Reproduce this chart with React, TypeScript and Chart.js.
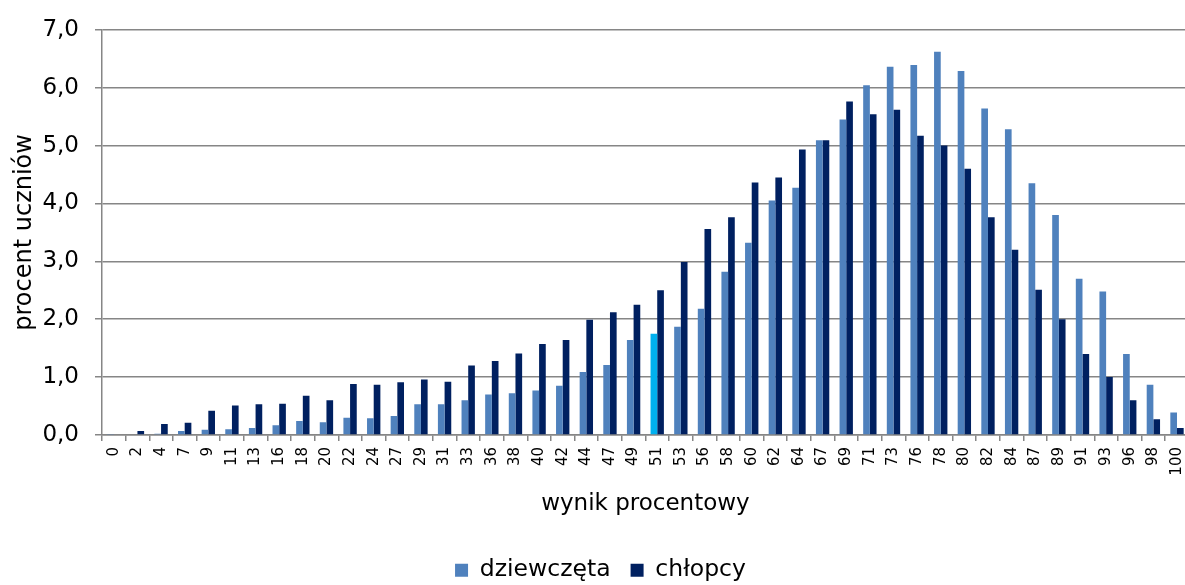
import React, { useEffect, useRef } from 'react';
import { Chart, registerables } from 'chart.js';

Chart.register(...registerables);

const categories = ['0', '2', '4', '7', '9', '11', '13', '16', '18', '20', '22', '24', '27', '29', '31', '33', '36', '38', '40', '42', '44', '47', '49', '51', '53', '56', '58', '60', '62', '64', '67', '69', '71', '73', '76', '78', '80', '82', '84', '87', '89', '91', '93', '96', '98', '100'];

const girls = [0.01, 0.0, 0.02, 0.07, 0.09, 0.1, 0.12, 0.17, 0.24, 0.22, 0.3, 0.29, 0.33, 0.53, 0.53, 0.6, 0.7, 0.72, 0.77, 0.85, 1.09, 1.21, 1.64, 1.75, 1.87, 2.18, 2.82, 3.32, 4.05, 4.27, 5.09, 5.45, 6.04, 6.36, 6.39, 6.62, 6.29, 5.64, 5.28, 4.35, 3.8, 2.7, 2.48, 1.4, 0.87, 0.39];

const boys = [0.0, 0.07, 0.19, 0.21, 0.42, 0.51, 0.53, 0.54, 0.68, 0.6, 0.88, 0.87, 0.91, 0.96, 0.92, 1.2, 1.28, 1.41, 1.57, 1.64, 1.99, 2.12, 2.25, 2.5, 2.99, 3.56, 3.76, 4.36, 4.45, 4.93, 5.09, 5.76, 5.54, 5.62, 5.17, 5.0, 4.6, 3.76, 3.2, 2.51, 2.0, 1.4, 1.0, 0.6, 0.27, 0.12];

const seriesNames = ['dziewczęta', 'chłopcy'];
const highlightLabel = '51';
const yMin = 0;
const yMax = 7;
const yStep = 1;

const FONT = "'DejaVu Sans', sans-serif";
const GRID = '#868686';
const GIRLS_COLOR = '#4F81BD';
const GIRLS_HIGHLIGHT = '#00B0F0';
const BOYS_COLOR = '#002060';

export default function App() {
  const ref = useRef<HTMLCanvasElement>(null);

  useEffect(() => {
    const highlightIndex = categories.indexOf(highlightLabel);
    const chart = new Chart(ref.current as HTMLCanvasElement, {
      type: 'bar',
      data: {
        labels: categories,
        datasets: [
          {
            label: seriesNames[0],
            data: girls,
            backgroundColor: (ctx: any) =>
              ctx.type === 'data' && ctx.dataIndex === highlightIndex ? GIRLS_HIGHLIGHT : GIRLS_COLOR,
            borderWidth: 0,
            categoryPercentage: 0.565,
            barPercentage: 1,
          },
          {
            label: seriesNames[1],
            data: boys,
            backgroundColor: BOYS_COLOR,
            borderWidth: 0,
            categoryPercentage: 0.565,
            barPercentage: 1,
          },
        ],
      },
      options: {
        animation: false,
        responsive: true,
        maintainAspectRatio: false,
        layout: { padding: { top: 27, left: 0, right: 0, bottom: -7 } },
        plugins: {
          legend: {
            position: 'bottom',
            labels: {
              font: { family: FONT, size: 23.5 },
              color: '#000',
              boxWidth: 13,
              boxHeight: 13,
              padding: 20,
            },
          },
          tooltip: { enabled: false },
        },
        scales: {
          x: {
            grid: {
              display: true,
              drawOnChartArea: false,
              drawTicks: true,
              tickLength: 6,
              color: GRID,
              lineWidth: 1.5,
              offset: true,
            },
            border: { display: true, color: GRID, width: 1.5 },
            ticks: {
              autoSkip: false,
              maxRotation: 90,
              minRotation: 90,
              font: { family: FONT, size: 15 },
              color: '#000',
              padding: 6,
            },
            title: {
              display: true,
              text: 'wynik procentowy',
              font: { family: FONT, size: 23 },
              color: '#000',
              padding: { top: 0, bottom: 21 },
            },
            afterFit: (s: any) => {
              s.height = 103.5;
            },
          },
          y: {
            min: yMin,
            max: yMax,
            ticks: {
              stepSize: yStep,
              callback: (v: any) => Number(v).toFixed(1).replace('.', ','),
              font: { family: FONT, size: 23 },
              color: '#000',
              padding: 16,
            },
            grid: { color: GRID, lineWidth: 1.5, tickLength: 7 },
            border: { display: true, color: GRID, width: 1.5 },
            title: {
              display: true,
              text: 'procent uczniów',
              font: { family: FONT, size: 24 },
              color: '#000',
              padding: { top: 10, bottom: 0 },
            },
            afterFit: (s: any) => {
              s.width = 102;
            },
          },
        },
      },
    } as any);
    return () => chart.destroy();
  }, []);

  return (
    <div style={{ position: 'fixed', left: 0, top: 0, width: 1185, height: 585, overflow: 'hidden', background: '#fff' }}>
      <div style={{ position: 'relative', width: 1201, height: 585 }}>
        <canvas ref={ref} />
      </div>
    </div>
  );
}
